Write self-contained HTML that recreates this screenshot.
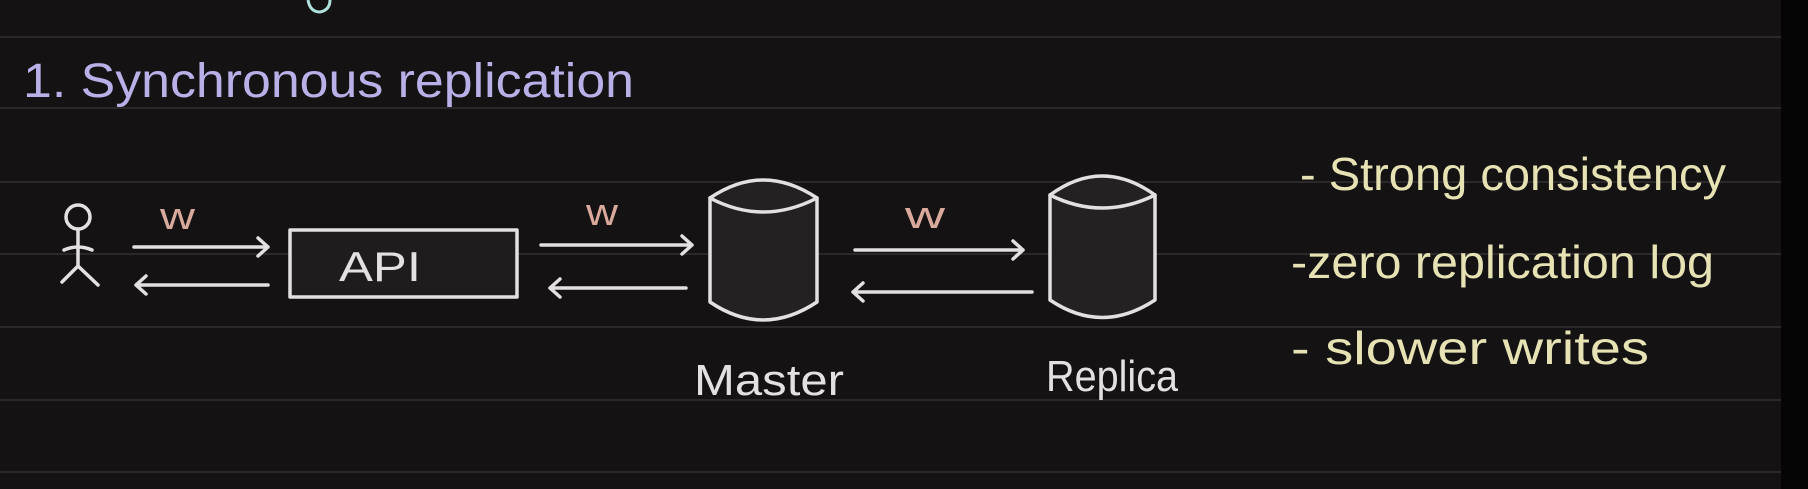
<!DOCTYPE html>
<html><head><meta charset="utf-8"><style>
html,body{margin:0;padding:0;background:#141213;}
svg{display:block}
text{font-family:"Liberation Sans","DejaVu Sans",sans-serif;}
</style></head><body>
<svg width="1808" height="489" viewBox="0 0 1808 489" xmlns="http://www.w3.org/2000/svg">
<rect width="1808" height="489" fill="#141213"/>
<rect x="1781" y="0" width="27" height="489" fill="#050505"/>
<g stroke="#2a2829" stroke-width="2">
<line x1="0" y1="37" x2="1781" y2="37"/>
<line x1="0" y1="108" x2="1781" y2="108"/>
<line x1="0" y1="182" x2="1781" y2="182"/>
<line x1="0" y1="254" x2="1781" y2="254"/>
<line x1="0" y1="327" x2="1781" y2="327"/>
<line x1="0" y1="400" x2="1781" y2="400"/>
<line x1="0" y1="472" x2="1781" y2="472"/>
</g>
<path d="M308 0 Q310 12 320 12 Q330 10 330 0" fill="none" stroke="#aee0dc" stroke-width="3"/>
<text x="23" y="97" font-size="48" fill="#b9b0e8" textLength="611" lengthAdjust="spacingAndGlyphs">1. Synchronous  replication</text>
<g stroke="#e2e0e0" stroke-width="3.5" fill="none" stroke-linecap="round" stroke-linejoin="round">
<circle cx="78" cy="217" r="12"/>
<path d="M78 229 L78 266 M64 250 Q78 244 92 250 M78 266 L62 282 M78 266 L98 285"/>
<path d="M134 247 L268 247 M258 238 L268 247 L258 256"/>
<path d="M136 285 L268 285 M146 276 L136 285 L146 294"/>
<rect x="290" y="230" width="227" height="67" fill="#1e1c1d"/>
<path d="M541 245 L692 245 M682 236 L692 245 L682 254"/>
<path d="M550 288 L686 288 M560 279 L550 288 L560 297"/>
<path d="M855 250 L1023 250 M1013 241 L1023 250 L1013 259"/>
<path d="M853 292 L1032 292 M863 283 L853 292 L863 301"/>
<path d="M710 198 Q763 162 817 198 L817 302 Q763 338 710 302 Z" fill="#232122"/>
<path d="M710 198 Q763 226 817 198"/>
<path d="M1050 195 Q1102 157 1155 195 L1155 300 Q1102 335 1050 300 Z" fill="#232122"/>
<path d="M1050 195 Q1102 221 1155 195"/>
</g>
<text x="339" y="281" font-size="42" fill="#e2e0e0" textLength="82" lengthAdjust="spacingAndGlyphs">API</text>
<g fill="#d9aa9c" font-size="38">
<text x="160" y="229" textLength="35" lengthAdjust="spacingAndGlyphs">w</text>
<text x="586" y="225" textLength="32" lengthAdjust="spacingAndGlyphs">w</text>
<text x="905" y="228" textLength="40" lengthAdjust="spacingAndGlyphs">w</text>
</g>
<text x="694" y="395" font-size="44" fill="#e2e0e0" textLength="150" lengthAdjust="spacingAndGlyphs">Master</text>
<text x="1046" y="391" font-size="44" fill="#e2e0e0" textLength="132" lengthAdjust="spacingAndGlyphs">Replica</text>
<g fill="#e6e2b4" font-size="46">
<text x="1300" y="190" textLength="426" lengthAdjust="spacingAndGlyphs">- Strong  consistency</text>
<text x="1291" y="278" textLength="423" lengthAdjust="spacingAndGlyphs">-zero replication log</text>
<text x="1291" y="364" textLength="358" lengthAdjust="spacingAndGlyphs">- slower  writes</text>
</g>
</svg>
</body></html>
